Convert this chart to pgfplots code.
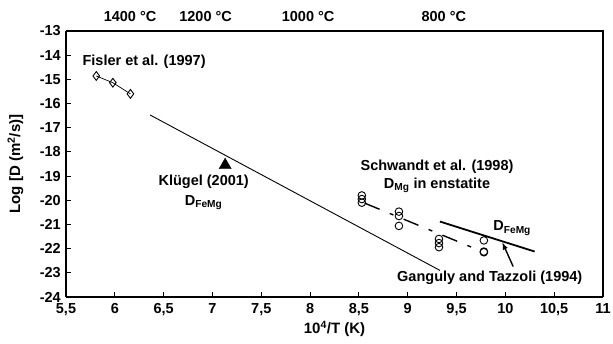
\documentclass[border=0pt]{standalone}
\usepackage{fontspec}
\setmainfont{Liberation Sans}
\usepackage{pgfplots}
\pgfplotsset{compat=1.18}
\begin{document}
\begin{tikzpicture}[x=1pt,y=1pt,font=\bfseries\fontsize{14.5}{16}\selectfont]
\begin{axis}[
  scale only axis, width=537pt, height=266pt,
  xmin=5.5, xmax=11, ymin=-24, ymax=-13,
  xtick={5.5,6,...,11}, ytick={-24,-23,...,-13},
  axis x line*=bottom, axis y line*=left,
  axis line style={line width=1.6pt, -},
  tick align=inside, major tick length=5pt,
  tick style={line width=0.9pt, black},
  /pgf/number format/assume math mode=true,
  /pgf/number format/use comma,
  /pgf/number format/fixed,
  ticklabel style={font=\bfseries\fontsize{14.5}{16}\selectfont},
  xticklabel style={inner sep=1pt, yshift=-5pt},
  yticklabel style={inner sep=2pt, xshift=-3pt},
  xlabel={10\textsuperscript{4}/T (K)},
  ylabel={Log [D (m\textsuperscript{2}/s)]},
  label style={font=\bfseries\fontsize{15}{17}\selectfont},
  xlabel style={yshift=-1pt},
  ylabel style={yshift=11pt},
  clip=false,
]
% right and top frame
\draw[line width=1.6pt] (axis cs:5.5,-13) -- (axis cs:11,-13) -- (axis cs:11,-24);
% Fisler et al. (1997)
\addplot[black, line width=0.7pt, mark=diamond, mark size=4.4pt, mark options={solid, line width=0.9pt, fill=white}]
  coordinates {(5.81,-14.86) (5.98,-15.14) (6.16,-15.6)};
% Klugel line
\addplot[black, line width=0.9pt] coordinates {(6.36,-16.47) (9.33,-22.9)};
\addplot[only marks, mark=triangle*, mark size=7pt, black] coordinates {(7.13,-18.55)};
% Schwandt dashed line
\addplot[black, line width=1.4pt, dash pattern=on 16pt off 11pt on 4pt off 11pt]
  coordinates {(8.56,-20.12) (9.72,-22.05)};
% Schwandt circles
\addplot[only marks, mark=o, mark size=3.8pt, mark options={line width=0.9pt}, black]
  coordinates {(8.53,-19.8) (8.53,-19.95) (8.53,-20.1) (8.91,-20.47) (8.91,-20.65) (8.91,-21.06)
  (9.32,-21.6) (9.32,-21.77) (9.32,-21.94) (9.78,-21.66) (9.78,-22.12) (9.78,-22.15)};
% Ganguly and Tazzoli
\addplot[black, line width=1.8pt] coordinates {(9.33,-20.88) (10.30,-22.12)};
\draw[-latex, line width=1.4pt] (axis cs:10.08,-22.74) -- (axis cs:9.97,-21.75);
% labels
\node at (axis cs:6.3,-14.27) {Fisler et al. (1997)};
\node at (axis cs:6.91,-19.25) {Klügel (2001)};
\node at (axis cs:6.91,-20.1) {D\textsubscript{FeMg}};
\node at (axis cs:9.30,-18.63) {Schwandt et al. (1998)};
\node at (axis cs:9.30,-19.39) {D\textsubscript{Mg} in enstatite};
\node at (axis cs:10.07,-21.15) {D\textsubscript{FeMg}};
\node at (axis cs:9.84,-23.22) {Ganguly and Tazzoli (1994)};
% temperature labels
\node[anchor=base] at (axis cs:6.156,-12.62) {1400 °C};
\node[anchor=base] at (axis cs:6.93,-12.62) {1200 °C};
\node[anchor=base] at (axis cs:7.98,-12.62) {1000 °C};
\node[anchor=base] at (axis cs:9.37,-12.62) {800 °C};
\end{axis}
\path (current axis.south west) ++(-66pt,-46pt) rectangle ++(613pt,343pt);
\end{tikzpicture}
\end{document}
